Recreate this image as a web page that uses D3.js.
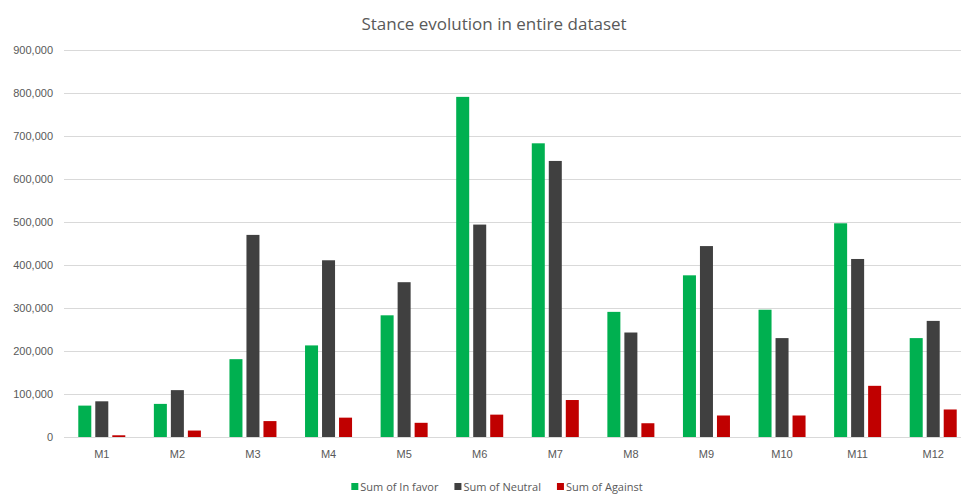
<!DOCTYPE html>
<html>
<head>
<meta charset="utf-8">
<script src="https://cdn.jsdelivr.net/npm/d3@7"></script>
<style>
  body { margin: 0; background: #fff; }
  svg { display: block; font-family: "Open Sans", sans-serif; }
</style>
</head>
<body>
<svg id="chart" width="961" height="494"></svg>
<script>
// months and stance counts
const months = ["M1", "M2", "M3", "M4", "M5", "M6", "M7", "M8", "M9", "M10", "M11", "M12"];
const inFavor = [73000, 77000, 181000, 213000, 283000, 791000, 683000, 291000, 376000, 296000, 497000, 230000];
const neutral = [83000, 109000, 470000, 411000, 360000, 494000, 642000, 243000, 444000, 230000, 414000, 270000];
const against = [4000, 15000, 37000, 45000, 33000, 52000, 86000, 32000, 50000, 50000, 119000, 64000];
const seriesNames = ["Sum of In favor", "Sum of Neutral", "Sum of Against"];
const yTicks = [0, 100000, 200000, 300000, 400000, 500000, 600000, 700000, 800000, 900000];

const colors = ["#00b050", "#404040", "#c00000"];
const values = [inFavor, neutral, against];

const svg = d3.select("#chart");
const plotLeft = 64, plotRight = 971, plotTop = 50, plotBottom = 437;

const x0 = d3.scaleBand()
    .domain(months)
    .range([plotLeft, plotRight])
    .paddingInner(0.378)
    .paddingOuter(0.189);

const x1 = d3.scaleBand()
    .domain(d3.range(3))
    .range([0, x0.bandwidth()])
    .paddingInner(0.235);

const y = d3.scaleLinear()
    .domain([0, 900000])
    .range([plotBottom, plotTop]);

// title
svg.append("text")
    .attr("x", 494)
    .attr("y", 30)
    .attr("text-anchor", "middle")
    .style("font-size", "17px")
    .style("fill", "#595959")
    .text("Stance evolution in entire dataset");

// y axis + gridlines
const yAxis = svg.append("g")
    .attr("transform", `translate(${plotLeft},0)`)
    .call(d3.axisLeft(y).tickValues(yTicks).tickFormat(d3.format(",")).tickSize(-(plotRight - plotLeft)).tickPadding(11));
yAxis.select(".domain").remove();
yAxis.selectAll(".tick line")
    .attr("stroke", "#d9d9d9")
    .attr("shape-rendering", "crispEdges");
yAxis.selectAll(".tick text")
    .style("font-size", "11px")
    .style("fill", "#595959");

// bars
const groups = svg.append("g")
    .selectAll("g")
    .data(months)
    .join("g")
        .attr("transform", d => `translate(${x0(d)},0)`);

groups.selectAll("rect")
    .data((d, i) => values.map((s, k) => ({k, v: s[i]})))
    .join("rect")
        .attr("x", d => x1(d.k))
        .attr("y", d => y(d.v))
        .attr("width", x1.bandwidth())
        .attr("height", d => y(0) - y(d.v))
        .attr("fill", d => colors[d.k]);

// x axis labels
const xAxis = svg.append("g")
    .attr("transform", `translate(0,${plotBottom})`)
    .call(d3.axisBottom(x0).tickSize(0).tickPadding(13));
xAxis.select(".domain").remove();
xAxis.selectAll(".tick text")
    .style("font-size", "11px")
    .style("fill", "#595959");

// legend, centred under the plot
const legend = svg.append("g");
let cx = 0;
seriesNames.forEach((name, i) => {
    const item = legend.append("g").attr("transform", `translate(${cx},0)`);
    item.append("rect")
        .attr("x", 0).attr("y", -4)
        .attr("width", 7).attr("height", 7)
        .attr("fill", colors[i]);
    const t = item.append("text")
        .attr("x", 9).attr("y", 4)
        .style("font-size", "11px")
        .style("fill", "#595959")
        .text(name);
    cx += 9 + t.node().getComputedTextLength() + 16;
});
const legendWidth = cx - 16;
legend.attr("transform", `translate(${497 - legendWidth / 2},487)`);
</script>
</body>
</html>
